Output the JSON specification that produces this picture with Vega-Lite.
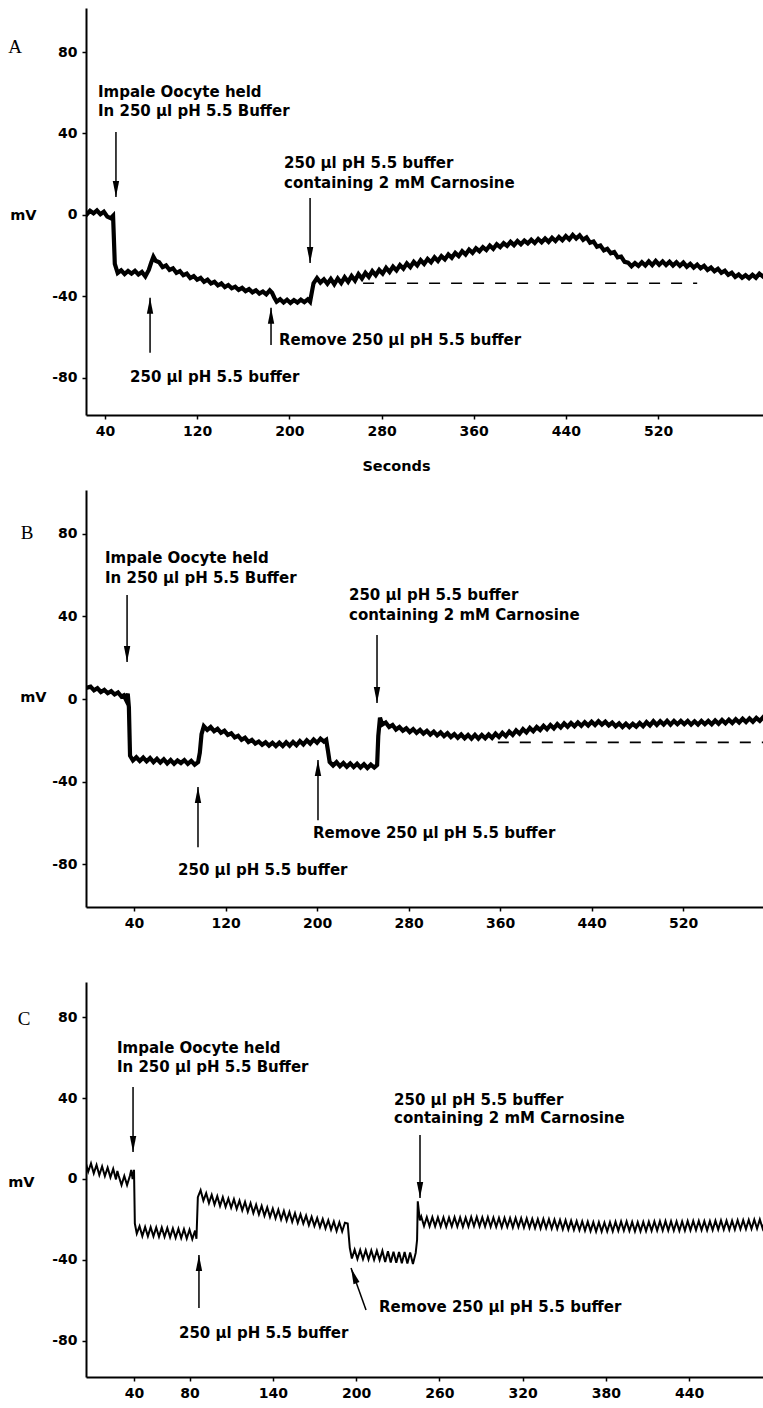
{
  "$schema": "https://vega.github.io/schema/vega-lite/v6.json",
  "background": "white",
  "padding": {"left": 7, "top": 8, "right": 0, "bottom": 4},
  "spacing": 75,
  "bounds": "flush",
  "config": {
    "view": {"stroke": null},
    "axis": {
      "grid": false,
      "domainColor": "black",
      "domainWidth": 2,
      "tickColor": "black",
      "tickWidth": 1.5,
      "tickSize": 4,
      "labelFont": "DejaVu Sans",
      "labelFontWeight": "bold",
      "labelFontSize": 14,
      "labelColor": "black",
      "labelExpr": "toString(datum.value)",
      "titleFont": "DejaVu Sans",
      "titleFontWeight": "bold",
      "titleFontSize": 14.5,
      "titleColor": "black"
    },
    "axisX": {"labelPadding": 5, "labelFlush": false},
    "axisY": {"labelPadding": 5}
  },
  "datasets": {
    "traceA": [
      {"s":21,"v":1.5},{"s":24,"v":0.2},{"s":27,"v":2.0},{"s":30,"v":0.8},{"s":33,"v":2.2},{"s":36,"v":0.4},{"s":39,"v":1.6},{"s":42,"v":-0.8},{"s":45,"v":-1.6},{"s":47,"v":-0.4},
      {"s":48.5,"v":-24},{"s":51,"v":-28.5},{"s":54,"v":-27.2},{"s":57,"v":-29.0},{"s":60,"v":-27.5},{"s":63,"v":-28.8},{"s":66,"v":-27.4},{"s":69,"v":-29.2},{"s":72,"v":-28.0},{"s":75,"v":-30.2},
      {"s":78,"v":-27.0},{"s":80,"v":-23.5},{"s":82,"v":-20.5},{"s":84,"v":-22.5},{"s":87,"v":-23.2},{"s":90,"v":-25.6},{"s":93,"v":-24.8},{"s":96,"v":-27.0},{"s":99,"v":-26.2},{"s":102,"v":-28.4},
      {"s":105,"v":-27.6},{"s":108,"v":-29.6},{"s":111,"v":-28.8},{"s":114,"v":-31.0},{"s":117,"v":-30.0},{"s":120,"v":-31.8},{"s":123,"v":-30.9},{"s":126,"v":-32.8},{"s":129,"v":-31.8},{"s":132,"v":-33.6},
      {"s":135,"v":-32.8},{"s":138,"v":-34.6},{"s":141,"v":-33.6},{"s":144,"v":-35.4},{"s":147,"v":-34.4},{"s":150,"v":-36.0},{"s":153,"v":-35.2},{"s":156,"v":-36.8},{"s":159,"v":-35.8},{"s":162,"v":-37.4},
      {"s":165,"v":-36.4},{"s":168,"v":-38.0},{"s":171,"v":-37.0},{"s":174,"v":-38.6},{"s":177,"v":-37.6},{"s":180,"v":-39.0},{"s":183,"v":-37.0},{"s":185,"v":-38.2},{"s":187,"v":-40.6},{"s":189,"v":-42.6},
      {"s":192,"v":-41.4},{"s":195,"v":-43.0},{"s":198,"v":-41.6},{"s":201,"v":-43.2},{"s":204,"v":-41.8},{"s":207,"v":-43.0},{"s":210,"v":-41.6},{"s":213,"v":-42.8},{"s":216,"v":-41.4},{"s":218,"v":-42.6},
      {"s":219.5,"v":-38},{"s":221,"v":-33.5},{"s":224,"v":-31.0},{"s":227,"v":-33.2},{"s":230,"v":-31.6},{"s":233,"v":-33.8},{"s":236,"v":-31.4},{"s":239,"v":-34.0},{"s":242,"v":-31.2},{"s":245,"v":-33.4},
      {"s":248,"v":-30.6},{"s":251,"v":-32.8},{"s":254,"v":-30.0},{"s":257,"v":-32.2},{"s":260,"v":-29.0},{"s":263,"v":-31.2},{"s":266,"v":-28.4},{"s":269,"v":-30.4},{"s":272,"v":-27.6},{"s":275,"v":-29.6},
      {"s":278,"v":-27.0},{"s":281,"v":-28.8},{"s":284,"v":-26.0},{"s":287,"v":-28.0},{"s":290,"v":-25.4},{"s":293,"v":-27.2},{"s":296,"v":-24.6},{"s":299,"v":-26.4},{"s":302,"v":-23.8},{"s":305,"v":-25.6},
      {"s":308,"v":-23.0},{"s":311,"v":-24.8},{"s":314,"v":-22.2},{"s":317,"v":-24.0},{"s":320,"v":-21.6},{"s":323,"v":-23.2},{"s":326,"v":-20.8},{"s":329,"v":-22.6},{"s":332,"v":-20.2},{"s":335,"v":-21.8},
      {"s":338,"v":-19.4},{"s":341,"v":-21.0},{"s":344,"v":-18.6},{"s":347,"v":-20.2},{"s":350,"v":-17.8},{"s":353,"v":-19.4},{"s":356,"v":-17.0},{"s":359,"v":-18.6},{"s":362,"v":-16.4},{"s":365,"v":-17.8},
      {"s":368,"v":-15.8},{"s":371,"v":-17.2},{"s":374,"v":-15.0},{"s":377,"v":-16.6},{"s":380,"v":-14.4},{"s":383,"v":-15.8},{"s":386,"v":-13.8},{"s":389,"v":-15.2},{"s":392,"v":-13.2},{"s":395,"v":-14.8},
      {"s":398,"v":-12.8},{"s":401,"v":-14.4},{"s":404,"v":-12.6},{"s":407,"v":-14.0},{"s":410,"v":-12.2},{"s":413,"v":-13.8},{"s":416,"v":-11.8},{"s":419,"v":-13.4},{"s":422,"v":-11.6},{"s":425,"v":-13.2},
      {"s":428,"v":-11.2},{"s":431,"v":-12.8},{"s":434,"v":-10.8},{"s":437,"v":-12.4},{"s":440,"v":-10.4},{"s":443,"v":-12.0},{"s":446,"v":-9.8},{"s":449,"v":-11.6},{"s":452,"v":-10.0},{"s":455,"v":-12.2},
      {"s":458,"v":-11.0},{"s":461,"v":-13.6},{"s":464,"v":-13.0},{"s":467,"v":-15.6},{"s":470,"v":-15.0},{"s":473,"v":-17.4},{"s":476,"v":-16.6},{"s":479,"v":-18.8},{"s":482,"v":-18.2},{"s":485,"v":-20.8},
      {"s":488,"v":-20.4},{"s":491,"v":-23.0},{"s":494,"v":-23.4},{"s":497,"v":-25.2},{"s":500,"v":-23.6},{"s":503,"v":-25.0},{"s":506,"v":-23.2},{"s":509,"v":-24.8},{"s":512,"v":-22.8},{"s":515,"v":-24.6},
      {"s":518,"v":-22.6},{"s":521,"v":-24.4},{"s":524,"v":-22.8},{"s":527,"v":-24.6},{"s":530,"v":-23.0},{"s":533,"v":-24.8},{"s":536,"v":-23.2},{"s":539,"v":-25.0},{"s":542,"v":-23.4},{"s":545,"v":-25.4},
      {"s":548,"v":-24.0},{"s":551,"v":-25.8},{"s":554,"v":-24.4},{"s":557,"v":-26.2},{"s":560,"v":-25.0},{"s":563,"v":-27.0},{"s":566,"v":-25.8},{"s":569,"v":-27.6},{"s":572,"v":-26.4},{"s":575,"v":-28.4},
      {"s":578,"v":-27.4},{"s":581,"v":-29.4},{"s":584,"v":-28.4},{"s":587,"v":-30.4},{"s":590,"v":-29.2},{"s":593,"v":-30.8},{"s":596,"v":-29.6},{"s":599,"v":-31.0},{"s":602,"v":-29.4},{"s":605,"v":-30.8},
      {"s":608,"v":-28.8},{"s":611,"v":-30.2},{"s":613,"v":-29.0}
    ],
    "traceB": [
      {"s":-2,"v":5.4},{"s":2,"v":6.0},{"s":5,"v":4.2},{"s":8,"v":5.2},{"s":11,"v":3.4},{"s":14,"v":4.4},{"s":17,"v":2.8},{"s":20,"v":3.8},{"s":23,"v":2.2},{"s":26,"v":3.2},{"s":29,"v":1.2},
      {"s":31,"v":1.8},{"s":33,"v":-0.4},{"s":34.5,"v":2.6},{"s":35.5,"v":-4},{"s":36.5,"v":-27.5},{"s":39,"v":-29.8},{"s":42,"v":-28.2},{"s":45,"v":-30.0},{"s":48,"v":-28.4},{"s":51,"v":-30.2},
      {"s":54,"v":-28.6},{"s":57,"v":-30.6},{"s":60,"v":-29.0},{"s":63,"v":-30.8},{"s":66,"v":-29.2},{"s":69,"v":-31.2},{"s":72,"v":-29.6},{"s":75,"v":-31.4},{"s":78,"v":-29.8},{"s":81,"v":-31.0},
      {"s":84,"v":-29.6},{"s":87,"v":-31.4},{"s":90,"v":-30.0},{"s":93,"v":-31.8},{"s":96,"v":-30.6},{"s":97.5,"v":-26},{"s":99,"v":-17},{"s":101,"v":-13.2},{"s":104,"v":-15.0},{"s":107,"v":-13.6},
      {"s":110,"v":-15.6},{"s":113,"v":-14.4},{"s":116,"v":-16.4},{"s":119,"v":-15.4},{"s":122,"v":-17.4},{"s":125,"v":-16.6},{"s":128,"v":-18.6},{"s":131,"v":-17.8},{"s":134,"v":-19.8},{"s":137,"v":-18.8},
      {"s":140,"v":-20.8},{"s":143,"v":-19.8},{"s":146,"v":-21.6},{"s":149,"v":-20.6},{"s":152,"v":-22.2},{"s":155,"v":-21.0},{"s":158,"v":-22.6},{"s":161,"v":-21.2},{"s":164,"v":-22.8},{"s":167,"v":-21.2},
      {"s":170,"v":-22.8},{"s":173,"v":-21.0},{"s":176,"v":-22.6},{"s":179,"v":-20.8},{"s":182,"v":-22.4},{"s":185,"v":-20.4},{"s":188,"v":-22.0},{"s":191,"v":-20.0},{"s":194,"v":-21.6},{"s":197,"v":-19.6},
      {"s":200,"v":-21.2},{"s":203,"v":-19.2},{"s":206,"v":-20.6},{"s":208,"v":-19.8},{"s":209.5,"v":-25},{"s":211,"v":-30.5},{"s":214,"v":-32.2},{"s":217,"v":-30.6},{"s":220,"v":-32.6},{"s":223,"v":-31.0},
      {"s":226,"v":-32.8},{"s":229,"v":-31.2},{"s":232,"v":-33.0},{"s":235,"v":-31.4},{"s":238,"v":-33.2},{"s":241,"v":-31.6},{"s":244,"v":-33.4},{"s":247,"v":-31.8},{"s":250,"v":-33.2},{"s":252.5,"v":-32.0},
      {"s":253.5,"v":-18},{"s":255,"v":-9.0},{"s":257,"v":-12.4},{"s":260,"v":-11.4},{"s":263,"v":-13.6},{"s":266,"v":-12.6},{"s":269,"v":-14.8},{"s":272,"v":-13.6},{"s":275,"v":-15.4},{"s":278,"v":-14.2},
      {"s":281,"v":-16.0},{"s":284,"v":-14.6},{"s":287,"v":-16.4},{"s":290,"v":-15.0},{"s":293,"v":-16.8},{"s":296,"v":-15.4},{"s":299,"v":-17.2},{"s":302,"v":-15.8},{"s":305,"v":-17.6},{"s":308,"v":-16.2},
      {"s":311,"v":-18.0},{"s":314,"v":-16.6},{"s":317,"v":-18.4},{"s":320,"v":-17.0},{"s":323,"v":-18.8},{"s":326,"v":-17.2},{"s":329,"v":-19.0},{"s":332,"v":-17.4},{"s":335,"v":-19.2},{"s":338,"v":-17.4},
      {"s":341,"v":-19.2},{"s":344,"v":-17.4},{"s":347,"v":-19.0},{"s":350,"v":-17.2},{"s":353,"v":-18.8},{"s":356,"v":-16.8},{"s":359,"v":-18.4},{"s":362,"v":-16.4},{"s":365,"v":-18.0},{"s":368,"v":-15.8},
      {"s":371,"v":-17.4},{"s":374,"v":-15.2},{"s":377,"v":-16.8},{"s":380,"v":-14.6},{"s":383,"v":-16.2},{"s":386,"v":-14.0},{"s":389,"v":-15.6},{"s":392,"v":-13.6},{"s":395,"v":-15.0},{"s":398,"v":-13.0},
      {"s":401,"v":-14.6},{"s":404,"v":-12.6},{"s":407,"v":-14.2},{"s":410,"v":-12.2},{"s":413,"v":-13.8},{"s":416,"v":-11.8},{"s":419,"v":-13.4},{"s":422,"v":-11.6},{"s":425,"v":-13.2},{"s":428,"v":-11.4},
      {"s":431,"v":-13.0},{"s":434,"v":-11.2},{"s":437,"v":-12.8},{"s":440,"v":-11.0},{"s":443,"v":-12.6},{"s":446,"v":-10.8},{"s":449,"v":-12.4},{"s":452,"v":-11.0},{"s":455,"v":-12.8},{"s":458,"v":-11.4},
      {"s":461,"v":-13.2},{"s":464,"v":-11.8},{"s":467,"v":-13.6},{"s":470,"v":-12.0},{"s":473,"v":-13.6},{"s":476,"v":-12.0},{"s":479,"v":-13.4},{"s":482,"v":-11.6},{"s":485,"v":-13.2},{"s":488,"v":-11.2},
      {"s":491,"v":-12.8},{"s":494,"v":-10.8},{"s":497,"v":-12.6},{"s":500,"v":-10.8},{"s":503,"v":-12.4},{"s":506,"v":-10.6},{"s":509,"v":-12.4},{"s":512,"v":-10.6},{"s":515,"v":-12.2},{"s":518,"v":-10.6},
      {"s":521,"v":-12.2},{"s":524,"v":-10.6},{"s":527,"v":-12.4},{"s":530,"v":-10.8},{"s":533,"v":-12.4},{"s":536,"v":-10.6},{"s":539,"v":-12.2},{"s":542,"v":-10.6},{"s":545,"v":-12.2},{"s":548,"v":-10.4},
      {"s":551,"v":-12.0},{"s":554,"v":-10.2},{"s":557,"v":-11.8},{"s":560,"v":-10.0},{"s":563,"v":-11.6},{"s":566,"v":-9.8},{"s":569,"v":-11.4},{"s":572,"v":-9.6},{"s":575,"v":-11.2},{"s":578,"v":-9.4},
      {"s":581,"v":-11.0},{"s":584,"v":-9.2},{"s":587,"v":-10.6},{"s":590,"v":-8.8},{"s":592,"v":-10.0}
    ],
    "traceC": [
      {"s":5,"v":8.5},{"s":7,"v":3.6},{"s":9,"v":7.7},{"s":11,"v":2.8},{"s":13,"v":6.9},{"s":15,"v":2.0},{"s":17,"v":6.2},{"s":19,"v":1.4},{"s":21,"v":5.6},{"s":23,"v":0.8},
      {"s":25,"v":5.0},{"s":27,"v":-0.2},{"s":28,"v":4.0},{"s":29,"v":1.5},{"s":31,"v":-3.0},{"s":33,"v":1.5},{"s":35,"v":-3.0},{"s":37,"v":1.5},{"s":38,"v":4.5},{"s":39,"v":0.0},
      {"s":40,"v":4.5},{"s":40.6,"v":-22},{"s":42,"v":-27},{"s":44,"v":-23.3},{"s":46,"v":-28.2},{"s":48,"v":-23.7},{"s":50,"v":-28.3},{"s":52,"v":-23.8},{"s":54,"v":-28.3},{"s":56,"v":-23.9},
      {"s":58,"v":-28.5},{"s":60,"v":-24},{"s":62,"v":-28.6},{"s":64,"v":-24.2},{"s":66,"v":-28.8},{"s":68,"v":-24.4},{"s":70,"v":-29.0},{"s":72,"v":-24.6},{"s":74,"v":-29.2},{"s":76,"v":-24.8},
      {"s":78,"v":-29.4},{"s":80,"v":-25.0},{"s":82,"v":-29.7},{"s":84,"v":-25.5},{"s":85,"v":-29.5},{"s":86,"v":-9},{"s":88,"v":-5.5},{"s":90,"v":-10.7},{"s":92,"v":-7},{"s":94,"v":-11.9},
      {"s":96,"v":-7.8},{"s":98,"v":-12.6},{"s":100,"v":-8.5},{"s":102,"v":-13.3},{"s":104,"v":-9.0},{"s":106,"v":-13.8},{"s":108,"v":-9.7},{"s":110,"v":-14.2},{"s":112,"v":-10},{"s":114,"v":-14.8},
      {"s":116,"v":-10.7},{"s":118,"v":-15.5},{"s":120,"v":-11.3},{"s":122,"v":-16.2},{"s":124,"v":-12.0},{"s":126,"v":-16.8},{"s":128,"v":-12.7},{"s":130,"v":-17.5},{"s":132,"v":-13.3},{"s":134,"v":-18.2},
      {"s":136,"v":-14.0},{"s":138,"v":-18.8},{"s":140,"v":-14.6},{"s":142,"v":-19.4},{"s":144,"v":-15.2},{"s":146,"v":-20.0},{"s":148,"v":-15.8},{"s":150,"v":-20.5},{"s":152,"v":-16.3},{"s":154,"v":-21.1},
      {"s":156,"v":-16.9},{"s":158,"v":-21.7},{"s":160,"v":-17.5},{"s":162,"v":-22.0},{"s":164,"v":-18.1},{"s":166,"v":-22.8},{"s":168,"v":-18.7},{"s":170,"v":-23.2},{"s":172,"v":-19.3},{"s":174,"v":-23.8},
      {"s":176,"v":-19.8},{"s":178,"v":-24.4},{"s":180,"v":-20.4},{"s":182,"v":-25.0},{"s":184,"v":-21.0},{"s":186,"v":-25.7},{"s":188,"v":-21.4},{"s":190,"v":-25.9},{"s":192,"v":-21.6},{"s":194,"v":-22.0},
      {"s":195.5,"v":-34},{"s":197,"v":-39.3},{"s":199,"v":-34.9},{"s":201,"v":-39.5},{"s":203,"v":-35.0},{"s":205,"v":-39.6},{"s":207,"v":-35.2},{"s":209,"v":-39.8},{"s":211,"v":-35.3},{"s":213,"v":-39.9},
      {"s":215,"v":-35.4},{"s":217,"v":-40.0},{"s":219,"v":-35.5},{"s":221,"v":-41.0},{"s":223,"v":-35.7},{"s":225,"v":-41.3},{"s":227,"v":-35.9},{"s":229,"v":-41.4},{"s":231,"v":-36.0},{"s":233,"v":-41.6},
      {"s":235,"v":-36.1},{"s":237,"v":-41.8},{"s":239,"v":-36.3},{"s":241,"v":-42.0},{"s":243,"v":-36.5},{"s":244,"v":-30},{"s":244.5,"v":-11},{"s":246,"v":-20.5},{"s":247,"v":-18.5},{"s":249,"v":-23.2},
      {"s":251,"v":-18.8},{"s":253,"v":-23.4},{"s":255,"v":-18.9},{"s":257,"v":-23.4},{"s":259,"v":-19.0},{"s":261,"v":-23.5},{"s":263,"v":-19.0},{"s":265,"v":-23.6},{"s":267,"v":-19.1},{"s":269,"v":-23.4},
      {"s":271,"v":-18.9},{"s":273,"v":-23.5},{"s":275,"v":-19.0},{"s":277,"v":-23.6},{"s":279,"v":-19.1},{"s":281,"v":-23.5},{"s":283,"v":-18.8},{"s":285,"v":-23.3},{"s":287,"v":-18.8},{"s":289,"v":-23.4},
      {"s":291,"v":-19.0},{"s":293,"v":-23.5},{"s":295,"v":-18.9},{"s":297,"v":-23.6},{"s":299,"v":-19.1},{"s":301,"v":-23.6},{"s":303,"v":-19.2},{"s":305,"v":-23.8},{"s":307,"v":-19.2},{"s":309,"v":-23.7},
      {"s":311,"v":-19.3},{"s":313,"v":-23.9},{"s":315,"v":-19.3},{"s":317,"v":-23.8},{"s":319,"v":-19.4},{"s":321,"v":-24.0},{"s":323,"v":-19.5},{"s":325,"v":-24.1},{"s":327,"v":-19.7},{"s":329,"v":-24.2},
      {"s":331,"v":-19.8},{"s":333,"v":-24.4},{"s":335,"v":-19.8},{"s":337,"v":-24.3},{"s":339,"v":-19.9},{"s":341,"v":-24.5},{"s":343,"v":-20.1},{"s":345,"v":-24.6},{"s":347,"v":-20.2},{"s":349,"v":-24.8},
      {"s":351,"v":-20.4},{"s":353,"v":-25.0},{"s":355,"v":-20.6},{"s":357,"v":-25.1},{"s":359,"v":-20.8},{"s":361,"v":-25.3},{"s":363,"v":-20.9},{"s":365,"v":-25.5},{"s":367,"v":-21.1},{"s":369,"v":-25.7},
      {"s":371,"v":-21.3},{"s":373,"v":-25.9},{"s":375,"v":-21.4},{"s":377,"v":-26.0},{"s":379,"v":-21.5},{"s":381,"v":-25.9},{"s":383,"v":-21.3},{"s":385,"v":-25.8},{"s":387,"v":-21.1},{"s":389,"v":-25.6},
      {"s":391,"v":-21.0},{"s":393,"v":-25.5},{"s":395,"v":-21.0},{"s":397,"v":-25.6},{"s":399,"v":-21.2},{"s":401,"v":-25.8},{"s":403,"v":-21.3},{"s":405,"v":-25.8},{"s":407,"v":-21.2},{"s":409,"v":-25.7},
      {"s":411,"v":-21.1},{"s":413,"v":-25.6},{"s":415,"v":-21.0},{"s":417,"v":-25.5},{"s":419,"v":-20.9},{"s":421,"v":-25.4},{"s":423,"v":-20.8},{"s":425,"v":-25.4},{"s":427,"v":-20.9},{"s":429,"v":-25.5},
      {"s":431,"v":-21.0},{"s":433,"v":-25.6},{"s":435,"v":-21.0},{"s":437,"v":-25.5},{"s":439,"v":-20.8},{"s":441,"v":-25.3},{"s":443,"v":-20.7},{"s":445,"v":-25.2},{"s":447,"v":-20.7},{"s":449,"v":-25.2},
      {"s":451,"v":-20.8},{"s":453,"v":-25.3},{"s":455,"v":-20.8},{"s":457,"v":-25.2},{"s":459,"v":-20.6},{"s":461,"v":-25.0},{"s":463,"v":-20.5},{"s":465,"v":-25.0},{"s":467,"v":-20.6},{"s":469,"v":-25.1},
      {"s":471,"v":-20.6},{"s":473,"v":-25.0},{"s":475,"v":-20.4},{"s":477,"v":-24.8},{"s":479,"v":-20.3},{"s":481,"v":-24.7},{"s":483,"v":-20.2},{"s":485,"v":-24.6},{"s":487,"v":-20.1},{"s":489,"v":-24.5},
      {"s":491,"v":-20.0},{"s":493,"v":-24.4},{"s":495,"v":-20.0}
    ],
    "baselines": [
      {"panel":"A","s":264,"s2":554,"v":-33.5},
      {"panel":"B","s":358,"s2":591,"v":-21}
    ],
    "arrows": [
      {"panel":"A","s":49.5,"s2":49.5,"tail":40.7,"tip":8.8,"dir":"down","rot":0},
      {"panel":"A","s":79.1,"s2":79.1,"tail":-67.7,"tip":-40.7,"dir":"up","rot":0},
      {"panel":"A","s":184.1,"s2":184.1,"tail":-63.8,"tip":-45.6,"dir":"up","rot":0},
      {"panel":"A","s":218,"s2":218,"tail":8.3,"tip":-23.6,"dir":"down","rot":0},
      {"panel":"B","s":33.9,"s2":33.9,"tail":50.4,"tip":17.9,"dir":"down","rot":0},
      {"panel":"B","s":95.9,"s2":95.9,"tail":-71.8,"tip":-42.7,"dir":"up","rot":0},
      {"panel":"B","s":200.8,"s2":200.8,"tail":-58.7,"tip":-29.6,"dir":"up","rot":0},
      {"panel":"B","s":252.4,"s2":252.4,"tail":31,"tip":-1.9,"dir":"down","rot":0},
      {"panel":"C","s":39.3,"s2":39.3,"tail":45.4,"tip":13.3,"dir":"down","rot":0},
      {"panel":"C","s":86.8,"s2":86.8,"tail":-63.7,"tip":-37.5,"dir":"up","rot":0},
      {"panel":"C","s":207.2,"s2":196.4,"tail":-64.7,"tip":-44,"dir":"up","rot":340},
      {"panel":"C","s":246.1,"s2":246.1,"tail":21.7,"tip":-9.4,"dir":"down","rot":0}
    ],
    "notes": [
      {"panel":"A","s":33.9,"v":60.4,"label":"Impale Oocyte held"},
      {"panel":"A","s":33.9,"v":51.0,"label":"In 250 µl pH 5.5 Buffer"},
      {"panel":"A","s":61.7,"v":-79.5,"label":"250 µl pH 5.5 buffer"},
      {"panel":"A","s":191.0,"v":-61.3,"label":"Remove 250 µl pH 5.5 buffer"},
      {"panel":"A","s":195.4,"v":25.5,"label":"250 µl pH 5.5 buffer"},
      {"panel":"A","s":195.4,"v":15.7,"label":"containing 2 mM Carnosine"},
      {"panel":"B","s":14.6,"v":68.4,"label":"Impale Oocyte held"},
      {"panel":"B","s":14.6,"v":58.7,"label":"In 250 µl pH 5.5 Buffer"},
      {"panel":"B","s":78.5,"v":-82.9,"label":"250 µl pH 5.5 buffer"},
      {"panel":"B","s":196.5,"v":-65.0,"label":"Remove 250 µl pH 5.5 buffer"},
      {"panel":"B","s":227.9,"v":50.4,"label":"250 µl pH 5.5 buffer"},
      {"panel":"B","s":227.9,"v":40.7,"label":"containing 2 mM Carnosine"},
      {"panel":"C","s":27.7,"v":64.7,"label":"Impale Oocyte held"},
      {"panel":"C","s":27.7,"v":55.3,"label":"In 250 µl pH 5.5 Buffer"},
      {"panel":"C","s":72.4,"v":-76.0,"label":"250 µl pH 5.5 buffer"},
      {"panel":"C","s":216.6,"v":-63.2,"label":"Remove 250 µl pH 5.5 buffer"},
      {"panel":"C","s":227.4,"v":39.0,"label":"250 µl pH 5.5 buffer"},
      {"panel":"C","s":227.4,"v":30.1,"label":"containing 2 mM Carnosine"}
    ],
    "letters": [
      {"panel":"A","s":-38.1,"v":82.5,"label":"A"},
      {"panel":"B","s":-53.5,"v":80.5,"label":"B"},
      {"panel":"C","s":-39.3,"v":79,"label":"C"}
    ]
  },
  "vconcat": [
    {
      "width": 678,
      "height": 407,
      "layer": [
        {
          "data": {"name": "traceA"},
          "mark": {"type": "line", "stroke": "black", "strokeWidth": 4.2, "clip": true},
          "encoding": {
            "x": {"field": "s", "type": "quantitative",
                  "scale": {"domain": [23.5, 612], "nice": false, "zero": false},
                  "axis": {"values": [40, 120, 200, 280, 360, 440, 520], "title": "Seconds", "titleX": 310, "titleY": 51, "titleBaseline": "middle", "titleAlign": "center"}},
            "y": {"field": "v", "type": "quantitative",
                  "scale": {"domain": [-98.2, 101.6], "nice": false, "zero": false},
                  "axis": {"values": [-80, -40, 0, 40, 80], "title": "mV", "titleAngle": 0, "titleAlign": "right", "titleBaseline": "middle", "titleX": -50, "titleY": 207}}
          }
        },
        {
          "data": {"name": "baselines"},
          "transform": [{"filter": "datum.panel === 'A'"}],
          "mark": {"type": "rule", "color": "black", "strokeWidth": 1.6, "strokeDash": [11, 11]},
          "encoding": {"x": {"field": "s", "type": "quantitative"}, "x2": {"field": "s2"}, "y": {"field": "v", "type": "quantitative"}}
        },
        {
          "data": {"name": "arrows"},
          "transform": [{"filter": "datum.panel === 'A'"}],
          "mark": {"type": "rule", "color": "black", "strokeWidth": 1.5},
          "encoding": {"x": {"field": "s", "type": "quantitative"}, "x2": {"field": "s2"}, "y": {"field": "tail", "type": "quantitative"}, "y2": {"field": "tip"}}
        },
        {
          "data": {"name": "arrows"},
          "transform": [{"filter": "datum.panel === 'A'"}],
          "mark": {"type": "point", "filled": true, "color": "black", "opacity": 1, "size": 256, "strokeWidth": 0},
          "encoding": {
            "x": {"field": "s2", "type": "quantitative"},
            "y": {"field": "tip", "type": "quantitative"},
            "shape": {"field": "dir", "type": "nominal", "scale": {"domain": ["down", "up"], "range": ["M-0.4,-2L0.4,-2L0,0Z", "M-0.4,2L0.4,2L0,0Z"]}, "legend": null},
            "angle": {"field": "rot", "type": "quantitative", "scale": null}
          }
        },
        {
          "data": {"name": "notes"},
          "transform": [{"filter": "datum.panel === 'A'"}],
          "mark": {"type": "text", "align": "left", "baseline": "middle", "font": "DejaVu Sans", "fontWeight": "bold", "fontSize": 15, "color": "black"},
          "encoding": {"x": {"field": "s", "type": "quantitative"}, "y": {"field": "v", "type": "quantitative"}, "text": {"field": "label"}}
        },
        {
          "data": {"name": "letters"},
          "transform": [{"filter": "datum.panel === 'A'"}],
          "mark": {"type": "text", "align": "center", "baseline": "middle", "font": "Liberation Serif", "fontSize": 19, "color": "black"},
          "encoding": {"x": {"field": "s", "type": "quantitative"}, "y": {"field": "v", "type": "quantitative"}, "text": {"field": "label"}}
        }
      ]
    },
    {
      "width": 678,
      "height": 417,
      "layer": [
        {
          "data": {"name": "traceB"},
          "mark": {"type": "line", "stroke": "black", "strokeWidth": 4.2, "clip": true},
          "encoding": {
            "x": {"field": "s", "type": "quantitative",
                  "scale": {"domain": [-2, 590.7], "nice": false, "zero": false},
                  "axis": {"values": [40, 120, 200, 280, 360, 440, 520], "title": null}},
            "y": {"field": "v", "type": "quantitative",
                  "scale": {"domain": [-100.8, 101.3], "nice": false, "zero": false},
                  "axis": {"values": [-80, -40, 0, 40, 80], "title": "mV", "titleAngle": 0, "titleAlign": "right", "titleBaseline": "middle", "titleX": -40, "titleY": 207}}
          }
        },
        {
          "data": {"name": "baselines"},
          "transform": [{"filter": "datum.panel === 'B'"}],
          "mark": {"type": "rule", "color": "black", "strokeWidth": 1.6, "strokeDash": [11, 11]},
          "encoding": {"x": {"field": "s", "type": "quantitative"}, "x2": {"field": "s2"}, "y": {"field": "v", "type": "quantitative"}}
        },
        {
          "data": {"name": "arrows"},
          "transform": [{"filter": "datum.panel === 'B'"}],
          "mark": {"type": "rule", "color": "black", "strokeWidth": 1.5},
          "encoding": {"x": {"field": "s", "type": "quantitative"}, "x2": {"field": "s2"}, "y": {"field": "tail", "type": "quantitative"}, "y2": {"field": "tip"}}
        },
        {
          "data": {"name": "arrows"},
          "transform": [{"filter": "datum.panel === 'B'"}],
          "mark": {"type": "point", "filled": true, "color": "black", "opacity": 1, "size": 256, "strokeWidth": 0},
          "encoding": {
            "x": {"field": "s2", "type": "quantitative"},
            "y": {"field": "tip", "type": "quantitative"},
            "shape": {"field": "dir", "type": "nominal", "scale": {"domain": ["down", "up"], "range": ["M-0.4,-2L0.4,-2L0,0Z", "M-0.4,2L0.4,2L0,0Z"]}, "legend": null},
            "angle": {"field": "rot", "type": "quantitative", "scale": null}
          }
        },
        {
          "data": {"name": "notes"},
          "transform": [{"filter": "datum.panel === 'B'"}],
          "mark": {"type": "text", "align": "left", "baseline": "middle", "font": "DejaVu Sans", "fontWeight": "bold", "fontSize": 15, "color": "black"},
          "encoding": {"x": {"field": "s", "type": "quantitative"}, "y": {"field": "v", "type": "quantitative"}, "text": {"field": "label"}}
        },
        {
          "data": {"name": "letters"},
          "transform": [{"filter": "datum.panel === 'B'"}],
          "mark": {"type": "text", "align": "center", "baseline": "middle", "font": "Liberation Serif", "fontSize": 19, "color": "black"},
          "encoding": {"x": {"field": "s", "type": "quantitative"}, "y": {"field": "v", "type": "quantitative"}, "text": {"field": "label"}}
        }
      ]
    },
    {
      "width": 678,
      "height": 395,
      "layer": [
        {
          "data": {"name": "traceC"},
          "mark": {"type": "line", "stroke": "black", "strokeWidth": 2, "clip": true},
          "encoding": {
            "x": {"field": "s", "type": "quantitative",
                  "scale": {"domain": [5.4, 494], "nice": false, "zero": false},
                  "axis": {"values": [40, 80, 140, 200, 260, 320, 380, 440], "title": null}},
            "y": {"field": "v", "type": "quantitative",
                  "scale": {"domain": [-97.8, 97.3], "nice": false, "zero": false},
                  "axis": {"values": [-80, -40, 0, 40, 80], "title": "mV", "titleAngle": 0, "titleAlign": "right", "titleBaseline": "middle", "titleX": -52, "titleY": 200}}
          }
        },
        {
          "data": {"name": "arrows"},
          "transform": [{"filter": "datum.panel === 'C'"}],
          "mark": {"type": "rule", "color": "black", "strokeWidth": 1.5},
          "encoding": {"x": {"field": "s", "type": "quantitative"}, "x2": {"field": "s2"}, "y": {"field": "tail", "type": "quantitative"}, "y2": {"field": "tip"}}
        },
        {
          "data": {"name": "arrows"},
          "transform": [{"filter": "datum.panel === 'C'"}],
          "mark": {"type": "point", "filled": true, "color": "black", "opacity": 1, "size": 256, "strokeWidth": 0},
          "encoding": {
            "x": {"field": "s2", "type": "quantitative"},
            "y": {"field": "tip", "type": "quantitative"},
            "shape": {"field": "dir", "type": "nominal", "scale": {"domain": ["down", "up"], "range": ["M-0.4,-2L0.4,-2L0,0Z", "M-0.4,2L0.4,2L0,0Z"]}, "legend": null},
            "angle": {"field": "rot", "type": "quantitative", "scale": null}
          }
        },
        {
          "data": {"name": "notes"},
          "transform": [{"filter": "datum.panel === 'C'"}],
          "mark": {"type": "text", "align": "left", "baseline": "middle", "font": "DejaVu Sans", "fontWeight": "bold", "fontSize": 15, "color": "black"},
          "encoding": {"x": {"field": "s", "type": "quantitative"}, "y": {"field": "v", "type": "quantitative"}, "text": {"field": "label"}}
        },
        {
          "data": {"name": "letters"},
          "transform": [{"filter": "datum.panel === 'C'"}],
          "mark": {"type": "text", "align": "center", "baseline": "middle", "font": "Liberation Serif", "fontSize": 19, "color": "black"},
          "encoding": {"x": {"field": "s", "type": "quantitative"}, "y": {"field": "v", "type": "quantitative"}, "text": {"field": "label"}}
        }
      ]
    }
  ]
}
